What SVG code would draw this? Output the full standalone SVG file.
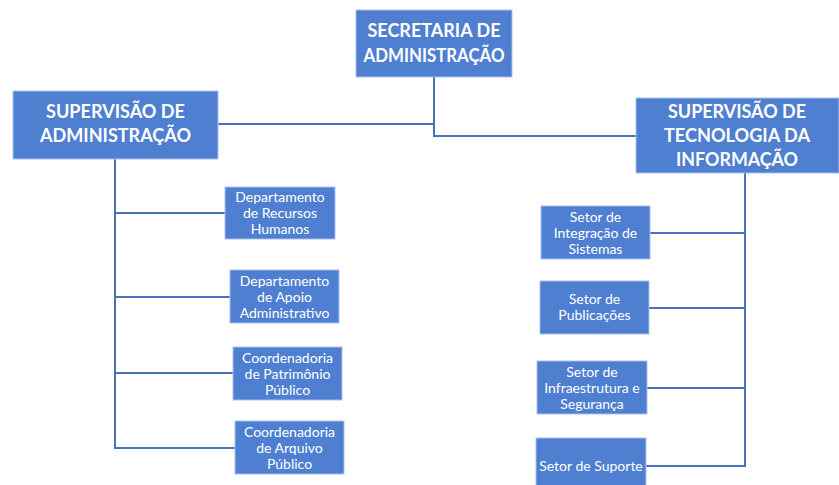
<svg xmlns="http://www.w3.org/2000/svg" width="839" height="485" viewBox="0 0 839 485">
<style>
.box{fill:#4f7fd1;stroke:#a9c1ec;stroke-width:1}
.big{font-family:Lato,"Liberation Sans",sans-serif;font-weight:bold;font-size:18px;fill:#ffffff;text-anchor:middle}
.sm{font-family:Lato,"Liberation Sans",sans-serif;font-size:14px;fill:#ffffff;text-anchor:middle}
.ln{fill:none;stroke:#4a72b8;stroke-width:2}
</style>
<rect width="839" height="485" fill="#ffffff"/>
<g id="connectors">
<path class="ln" d="M434 77V136H636"/>
<path class="ln" d="M218 124H434"/>
<path class="ln" d="M115 159V448H235"/>
<path class="ln" d="M115 213H225M115 297H230M115 373H233"/>
<path class="ln" d="M745 173V466H646"/>
<path class="ln" d="M650 233H745M649 308H745M647 388H745"/>
</g>
<g id="secretaria">
<rect class="box" x="356" y="10" width="156" height="67"/>
<text class="big" x="434" y="37" textLength="133" lengthAdjust="spacingAndGlyphs">SECRETARIA DE</text>
<text class="big" x="434" y="62" textLength="141" lengthAdjust="spacingAndGlyphs">ADMINISTRAÇÃO</text>
</g>
<g id="sup-adm">
<rect class="box" x="13" y="91" width="205" height="68"/>
<text class="big" x="115.5" y="118" textLength="139" lengthAdjust="spacingAndGlyphs">SUPERVISÃO DE</text>
<text class="big" x="115.5" y="142" textLength="151" lengthAdjust="spacingAndGlyphs">ADMINISTRAÇÃO</text>
</g>
<g id="sup-ti">
<rect class="box" x="636" y="98" width="203" height="75"/>
<text class="big" x="737" y="118" textLength="138" lengthAdjust="spacingAndGlyphs">SUPERVISÃO DE</text>
<text class="big" x="737" y="142" textLength="146" lengthAdjust="spacingAndGlyphs">TECNOLOGIA DA</text>
<text class="big" x="737" y="166" textLength="122" lengthAdjust="spacingAndGlyphs">INFORMAÇÃO</text>
</g>
<g id="dep-rh">
<rect class="box" x="225" y="187" width="110" height="52"/>
<text class="sm" x="280" y="202">Departamento</text>
<text class="sm" x="280" y="218">de Recursos</text>
<text class="sm" x="280" y="234">Humanos</text>
</g>
<g id="dep-apoio">
<rect class="box" x="230" y="270" width="109" height="53"/>
<text class="sm" x="284.5" y="286">Departamento</text>
<text class="sm" x="284.5" y="302">de Apoio</text>
<text class="sm" x="284.5" y="318">Administrativo</text>
</g>
<g id="coord-patrimonio">
<rect class="box" x="233" y="347" width="109" height="53"/>
<text class="sm" x="287.5" y="363">Coordenadoria</text>
<text class="sm" x="287.5" y="379">de Patrimônio</text>
<text class="sm" x="287.5" y="395">Público</text>
</g>
<g id="coord-arquivo">
<rect class="box" x="235" y="421" width="109" height="53"/>
<text class="sm" x="289.5" y="437">Coordenadoria</text>
<text class="sm" x="289.5" y="453">de Arquivo</text>
<text class="sm" x="289.5" y="469">Público</text>
</g>
<g id="setor-integracao">
<rect class="box" x="541" y="206" width="109" height="53"/>
<text class="sm" x="595.5" y="222">Setor de</text>
<text class="sm" x="595.5" y="238">Integração de</text>
<text class="sm" x="595.5" y="254">Sistemas</text>
</g>
<g id="setor-publicacoes">
<rect class="box" x="540" y="281" width="109" height="53"/>
<text class="sm" x="594.5" y="304">Setor de</text>
<text class="sm" x="594.5" y="320">Publicações</text>
</g>
<g id="setor-infra">
<rect class="box" x="537" y="361" width="110" height="53"/>
<text class="sm" x="592" y="377">Setor de</text>
<text class="sm" x="592" y="393">Infraestrutura e</text>
<text class="sm" x="592" y="409">Segurança</text>
</g>
<g id="setor-suporte">
<rect class="box" x="536" y="438" width="110" height="48"/>
<text class="sm" x="591" y="471">Setor de Suporte</text>
</g>
</svg>
